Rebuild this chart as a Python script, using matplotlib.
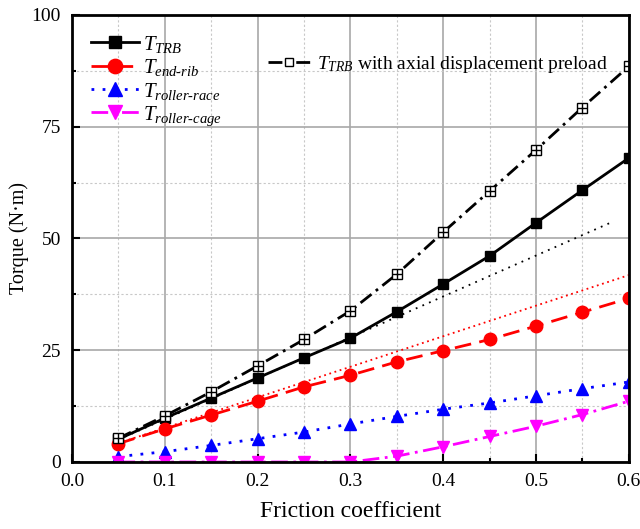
import matplotlib
matplotlib.use("Agg")
import matplotlib.pyplot as plt
from matplotlib.ticker import MultipleLocator

plt.rcParams["font.family"] = "Liberation Serif"
plt.rcParams["mathtext.fontset"] = "custom"
plt.rcParams["mathtext.it"] = "Liberation Serif:italic"
plt.rcParams["mathtext.rm"] = "Liberation Serif"

# friction coefficient
mu = [0.05, 0.10, 0.15, 0.20, 0.25, 0.30, 0.35, 0.40, 0.45, 0.50, 0.55, 0.60]

# torque values (N*m)
t_trb = [5.1, 9.8, 14.3, 18.8, 23.3, 27.7, 33.6, 39.8, 46.1, 53.5, 60.8, 68.0]
t_end_rib = [4.1, 7.4, 10.5, 13.6, 16.8, 19.4, 22.4, 24.9, 27.4, 30.4, 33.5, 36.6]
t_roller_race = [1.2, 2.3, 3.7, 5.2, 6.7, 8.5, 10.2, 11.8, 13.2, 14.8, 16.4, 17.9]
t_roller_cage = [0.0, 0.0, 0.0, 0.0, 0.0, 0.0, 1.3, 3.4, 5.7, 8.0, 10.6, 13.6]
t_preload = [5.3, 10.3, 15.7, 21.5, 27.4, 33.8, 42.0, 51.4, 60.6, 69.8, 79.3, 88.5]

# linear reference lines (end points)
ref_trb_x = [0.05, 0.58]
ref_trb_y = [5.0, 53.5]
ref_rib_x = [0.05, 0.60]
ref_rib_y = [4.2, 41.8]

fig = plt.figure(figsize=(6.4, 5.29), dpi=100)
ax = fig.add_axes([0.1125, 0.1267, 0.870, 0.845])

ax.plot(ref_trb_x, ref_trb_y, color="black", lw=1.3, ls=(0, (1, 3)))
ax.plot(ref_rib_x, ref_rib_y, color="red", lw=1.3, ls=(0, (1, 2)))

ax.plot(mu, t_trb, color="black", lw=2, marker="s", ms=7, label=r"$T_{TRB}$")
ax.plot(mu, t_end_rib, color="red", lw=2, ls=(0, (6, 3)), marker="o", ms=9,
        label=r"$T_{end\text{-}rib}$")
ax.plot(mu, t_roller_race, color="blue", lw=2, ls=(0, (1, 3)), marker="^",
        ms=9, label=r"$T_{roller\text{-}race}$")
ax.plot(mu, t_roller_cage, color="magenta", lw=2, ls=(0, (6, 2, 1, 2)),
        marker="v", ms=9, label=r"$T_{roller\text{-}cage}$")

# preload: open square with a cross
lp, = ax.plot(mu, t_preload, color="black", lw=2, ls=(0, (5, 2, 1, 2)),
              marker="s", ms=7, mfc="white", mec="black", mew=1,
              label=r"$T_{TRB}$ with axial displacement preload")
ax.plot(mu, t_preload, ls="none", marker="+", ms=7, mew=1, color="black")

leg1 = ax.legend(handles=ax.lines[2:6], loc="upper left", frameon=False,
                 fontsize=15, handlelength=2.3, borderaxespad=0.5,
                 labelspacing=0.12, markerscale=1.15, handletextpad=0.2)
ax.add_artist(leg1)
ax.legend(handles=[lp], loc="center left", frameon=False, fontsize=14,
          handlelength=2.2, bbox_to_anchor=(0.338, 0.89), handletextpad=0.3,
          borderaxespad=0, markerscale=0.8)

ax.set_xlim(0.0, 0.6)
ax.set_ylim(0, 100)
ax.xaxis.set_major_locator(MultipleLocator(0.1))
ax.xaxis.set_minor_locator(MultipleLocator(0.05))
ax.yaxis.set_major_locator(MultipleLocator(25))
ax.yaxis.set_minor_locator(MultipleLocator(12.5))
ax.set_xticklabels([f"{v:.1f}" for v in ax.get_xticks()])

ax.grid(which="major", color="#a8a8a8", lw=1.2, ls="-")
ax.grid(which="minor", color="#c8c8c8", lw=0.8, ls=(0, (2, 2)))
ax.set_axisbelow(True)

ax.tick_params(which="both", direction="in", labelsize=14, top=False,
               right=False, width=1.5)
ax.tick_params(which="major", length=6, pad=8)
ax.tick_params(which="minor", length=3)
for s in ax.spines.values():
    s.set_linewidth(2)

ax.set_xlabel("Friction coefficient", fontsize=17, labelpad=8)
ax.set_ylabel("Torque (N·m)", fontsize=14.5, labelpad=2)

fig.savefig("out.png", dpi=100)
